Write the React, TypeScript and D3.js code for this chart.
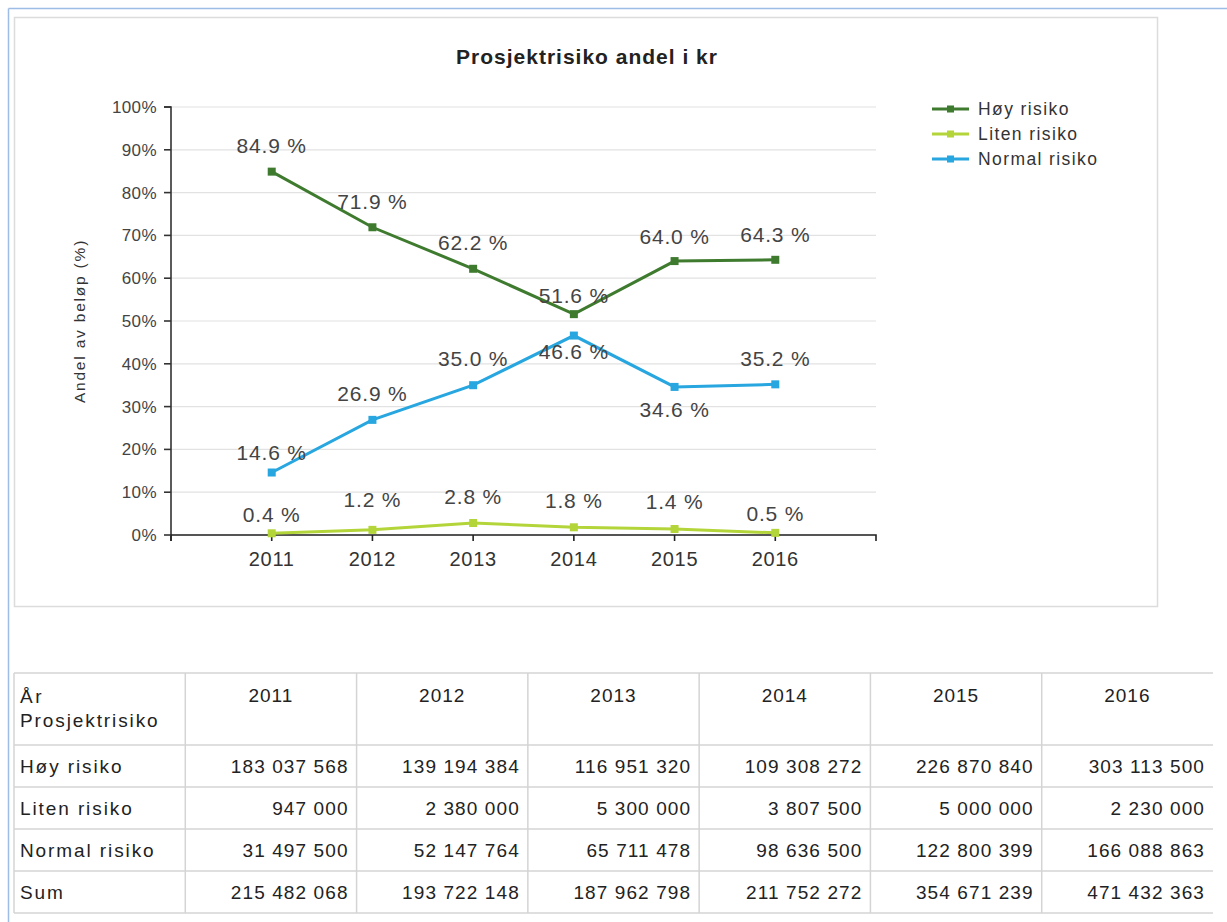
import React from "react";
import * as d3 from "d3";

const years = [2011, 2012, 2013, 2014, 2015, 2016];
const seriesNames = ["Høy risiko", "Liten risiko", "Normal risiko"];
const hoyPct = [84.9, 71.9, 62.2, 51.6, 64.0, 64.3];
const litenPct = [0.4, 1.2, 2.8, 1.8, 1.4, 0.5];
const normalPct = [14.6, 26.9, 35.0, 46.6, 34.6, 35.2];
const yTicks = [0, 10, 20, 30, 40, 50, 60, 70, 80, 90, 100];

const hoyKr = ["183 037 568", "139 194 384", "116 951 320", "109 308 272", "226 870 840", "303 113 500"];
const litenKr = ["947 000", "2 380 000", "5 300 000", "3 807 500", "5 000 000", "2 230 000"];
const normalKr = ["31 497 500", "52 147 764", "65 711 478", "98 636 500", "122 800 399", "166 088 863"];
const sumKr = ["215 482 068", "193 722 148", "187 962 798", "211 752 272", "354 671 239", "471 432 363"];

// layout-only: vertical shift of each data label relative to its point
const labelShiftHoy = [-26, -26, -26, -19, -24, -25];
const labelShiftLiten = [-19, -30, -26, -27, -27, -19];
const labelShiftNormal = [-20, -26, -27, 16, 23, -26];

const colors = ["#3f7b2f", "#b3d53a", "#27a6df"];
const FONT = "Arial, 'Liberation Sans', sans-serif";

export default function App() {
  const W = 1227, H = 922;
  const x = d3.scaleLinear().domain([2010, 2017]).range([171, 876]);
  const y = d3.scaleLinear().domain([0, 100]).range([535, 107]);

  const series = [
    { name: seriesNames[0], values: hoyPct, shift: labelShiftHoy, color: colors[0] },
    { name: seriesNames[1], values: litenPct, shift: labelShiftLiten, color: colors[1] },
    { name: seriesNames[2], values: normalPct, shift: labelShiftNormal, color: colors[2] },
  ];

  const line = d3.line<number>().x((_, i) => x(years[i])).y((v) => y(v));

  const xAxisPath = `M${x(2010)},${y(0) + 6}V${y(0)}H${x(2017)}V${y(0) + 6}`;
  const yAxisPath = `M${x(2010) - 7},${y(100)}H${x(2010)}V${y(0) + 6}`;

  // table
  const tableCols = ["label", ...years.map(String)];
  const colScale = d3.scaleBand<string>().domain(tableCols).range([14, 1213]);
  const headerTop = 673, headerBottom = 745, rowH = 42;
  const rows = [
    { label: seriesNames[0], vals: hoyKr },
    { label: seriesNames[1], vals: litenKr },
    { label: seriesNames[2], vals: normalKr },
    { label: "Sum", vals: sumKr },
  ];
  const rowTop = (i: number) => headerBottom + i * rowH;
  const hLines = [headerTop, headerBottom, ...rows.map((_, i) => rowTop(i + 1))];

  return (
    <svg
      width={W}
      height={H}
      style={{ position: "absolute", left: 0, top: 0, background: "#fff" }}
      fontFamily={FONT}
    >
      {/* page frame */}
      <line x1={8.5} y1={8.5} x2={W} y2={8.5} stroke="#9dbde6" strokeWidth={1.5} />
      <line x1={8.5} y1={8.5} x2={8.5} y2={H} stroke="#9dbde6" strokeWidth={1.5} />

      {/* chart box */}
      <rect x={14.5} y={17.5} width={1143} height={589} fill="#fff" stroke="#dcdcdc" strokeWidth={1.5} />

      <text x={587} y={64} textAnchor="middle" fontSize={21} fontWeight="bold" fill="#222" letterSpacing={1}>
        Prosjektrisiko andel i kr
      </text>

      {/* grid */}
      {yTicks.map((t) => (
        <line key={"g" + t} x1={x(2010)} x2={x(2017)} y1={y(t)} y2={y(t)} stroke="#e2e2e2" strokeWidth={1.2} />
      ))}

      {/* axes */}
      <path d={yAxisPath} fill="none" stroke="#333" strokeWidth={1.6} />
      <path d={xAxisPath} fill="none" stroke="#222" strokeWidth={1.6} />
      {yTicks.map((t) => (
        <g key={"yt" + t}>
          <line x1={x(2010) - 7} x2={x(2010)} y1={y(t)} y2={y(t)} stroke="#333" strokeWidth={1.6} />
          <text x={x(2010) - 14} y={y(t)} dy="0.35em" textAnchor="end" fontSize={17} fill="#444" letterSpacing={0.4}>
            {t}%
          </text>
        </g>
      ))}
      {years.map((yr) => (
        <g key={"xt" + yr}>
          <line x1={x(yr)} x2={x(yr)} y1={y(0)} y2={y(0) + 6} stroke="#222" strokeWidth={1.6} />
          <text x={x(yr)} y={y(0) + 31} textAnchor="middle" fontSize={20} fill="#333" letterSpacing={0.7}>
            {yr}
          </text>
        </g>
      ))}

      <text
        transform={`translate(80,${(y(0) + y(100)) / 2}) rotate(-90)`}
        textAnchor="middle"
        dy="0.35em"
        fontSize={15.5}
        fill="#333"
        letterSpacing={1.8}
      >
        Andel av beløp (%)
      </text>

      {/* series */}
      {series.map((s) => (
        <g key={s.name}>
          <path d={line(s.values) || ""} fill="none" stroke={s.color} strokeWidth={3} />
          {s.values.map((v, i) => (
            <rect key={i} x={x(years[i]) - 4} y={y(v) - 4} width={8} height={8} fill={s.color} />
          ))}
        </g>
      ))}
      {series.map((s) => (
        <g key={s.name + "lbl"}>
          {s.values.map((v, i) => (
            <text
              key={i}
              x={x(years[i])}
              y={y(v) + s.shift[i]}
              dy="0.35em"
              textAnchor="middle"
              fontSize={21}
              fill="#444"
              letterSpacing={0.8}
            >
              {v.toFixed(1)} %
            </text>
          ))}
        </g>
      ))}

      {/* legend */}
      {series.map((s, i) => (
        <g key={s.name + "leg"} transform={`translate(932,${109 + i * 25})`}>
          <line x1={0} x2={37} y1={0} y2={0} stroke={s.color} strokeWidth={3} />
          <rect x={15} y={-3.5} width={7} height={7} fill={s.color} />
          <text x={46} y={0} dy="0.35em" fontSize={17.5} fill="#333" letterSpacing={1.4}>
            {s.name}
          </text>
        </g>
      ))}

      {/* table */}
      {hLines.map((yy, i) => (
        <line key={"h" + i} x1={14} x2={1213} y1={yy} y2={yy} stroke="#d4d4d4" strokeWidth={1.5} />
      ))}
      {tableCols.map((c) => (
        <line
          key={"v" + c}
          x1={colScale(c)}
          x2={colScale(c)}
          y1={headerTop}
          y2={rowTop(rows.length)}
          stroke="#d4d4d4"
          strokeWidth={1.5}
        />
      ))}
      <text x={20} y={696} dy="0.35em" fontSize={19} fill="#222" letterSpacing={2.5}>
        År
      </text>
      <text x={20} y={720} dy="0.35em" fontSize={19} fill="#222" letterSpacing={1.9}>
        Prosjektrisiko
      </text>
      {years.map((yr) => (
        <text
          key={"th" + yr}
          x={(colScale(String(yr)) || 0) + colScale.bandwidth() / 2}
          y={695}
          dy="0.35em"
          textAnchor="middle"
          fontSize={19}
          fill="#222"
          letterSpacing={1}
        >
          {yr}
        </text>
      ))}
      {rows.map((r, i) => (
        <g key={"r" + i}>
          <text x={20} y={rowTop(i) + rowH / 2} dy="0.35em" fontSize={19} fill="#222" letterSpacing={1.9}>
            {r.label}
          </text>
          {r.vals.map((v, j) => (
            <text
              key={j}
              x={(colScale(String(years[j])) || 0) + colScale.bandwidth() - 8}
              y={rowTop(i) + rowH / 2}
              dy="0.35em"
              textAnchor="end"
              fontSize={19}
              fill="#222"
              letterSpacing={1.1}
            >
              {v}
            </text>
          ))}
        </g>
      ))}
    </svg>
  );
}
